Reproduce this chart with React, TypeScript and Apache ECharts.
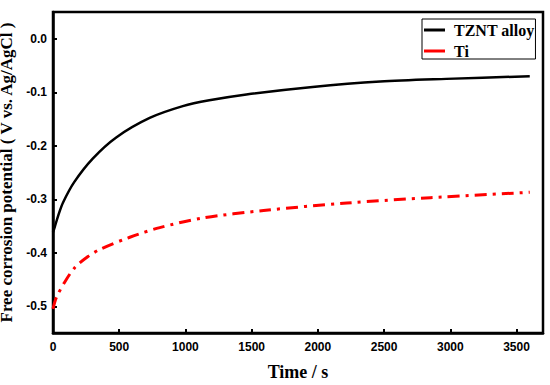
import React, { useEffect, useRef } from "react";
import * as echarts from "echarts";

const tzntTime = [0, 13, 40, 76, 160, 300, 480, 730, 980, 1180, 1460, 1960, 2470, 2970, 3600];
const tzntValues = [-0.362, -0.352, -0.33, -0.306, -0.268, -0.224, -0.184, -0.148, -0.126, -0.115, -0.104, -0.09, -0.08, -0.075, -0.07];
const tiTime = [0, 25, 88, 164, 264, 360, 580, 806, 1133, 1590, 2220, 2850, 3600];
const tiValues = [-0.505, -0.484, -0.455, -0.428, -0.407, -0.393, -0.371, -0.353, -0.335, -0.321, -0.307, -0.297, -0.287];
const yTicks = [-0.5, -0.4, -0.3, -0.2, -0.1, 0.0];
const seriesNames = ["TZNT alloy", "Ti"];

export default function App() {
  const ref = useRef<HTMLDivElement>(null);
  useEffect(() => {
    if (!ref.current) return;
    const chart = echarts.init(ref.current, null, { renderer: "svg" });
    const serif = "Liberation Serif";
    const axisLabel = { color: "#000", fontFamily: "Liberation Sans", fontWeight: "bold", fontSize: 12 };
    chart.setOption({
      animation: false,
      backgroundColor: "#fff",
      grid: {
        left: 53, right: 7, top: 12, bottom: 52,
        show: true, borderColor: "#000", borderWidth: 2.5, backgroundColor: "transparent",
        outerBoundsMode: "none", containLabel: false,
      },
      legend: {
        data: seriesNames,
        orient: "vertical",
        left: 422,
        top: 19,
        borderColor: "#000",
        borderWidth: 1,
        padding: [3, 1, 0, 2],
        itemGap: 5,
        icon: "rect",
        itemWidth: 21,
        itemHeight: 3,
        textStyle: { fontFamily: serif, fontWeight: "bold", fontSize: 16, color: "#000", padding: [0, 0, 0, 4] },
      },
      xAxis: {
        type: "value",
        min: 0,
        max: 3700,
        interval: 500,
        name: "Time / s",
        nameLocation: "middle",
        nameGap: 30,
        nameTextStyle: { fontFamily: serif, fontWeight: "bold", fontSize: 18, color: "#000" },
        axisLine: { show: true, onZero: false, lineStyle: { color: "#000", width: 2.5 } },
        axisTick: { show: true, inside: true, length: 4, lineStyle: { color: "#000", width: 2 } },
        axisLabel: { ...axisLabel, margin: 8, showMaxLabel: false, formatter: (v: number) => String(v) },
        splitLine: { show: false },
      },
      yAxis: {
        type: "value",
        min: -0.55,
        max: 0.05,
        name: "Free corrosion potential ( V vs. Ag/AgCl )",
        nameLocation: "middle",
        nameGap: 30,
        nameTextStyle: { fontFamily: serif, fontWeight: "bold", fontSize: 17, color: "#000" },
        axisLine: { show: true, onZero: false, lineStyle: { color: "#000", width: 2.5 } },
        axisTick: { show: true, inside: true, length: 4, customValues: yTicks, lineStyle: { color: "#000", width: 2 } },
        axisLabel: {
          ...axisLabel,
          margin: 6,
          customValues: yTicks,
          formatter: (v: number) => (Math.abs(v) < 1e-9 ? "0.0" : v.toFixed(1)),
        },
        splitLine: { show: false },
      },
      series: [
        {
          name: seriesNames[0],
          type: "line",
          data: tzntTime.map((t, i) => [t, tzntValues[i]]),
          smooth: 0.3,
          symbol: "none",
          color: "#000",
          lineStyle: { color: "#000", width: 2.5 },
        },
        {
          name: seriesNames[1],
          type: "line",
          data: tiTime.map((t, i) => [t, tiValues[i]]),
          smooth: 0.3,
          symbol: "none",
          color: "#ff0000",
          lineStyle: { color: "#ff0000", width: 3, type: [12, 6, 3, 6] },
        },
      ],
    });
    return () => chart.dispose();
  }, []);
  return <div ref={ref} style={{ width: 550, height: 385, position: "absolute", left: 0, top: 0 }} />;
}
